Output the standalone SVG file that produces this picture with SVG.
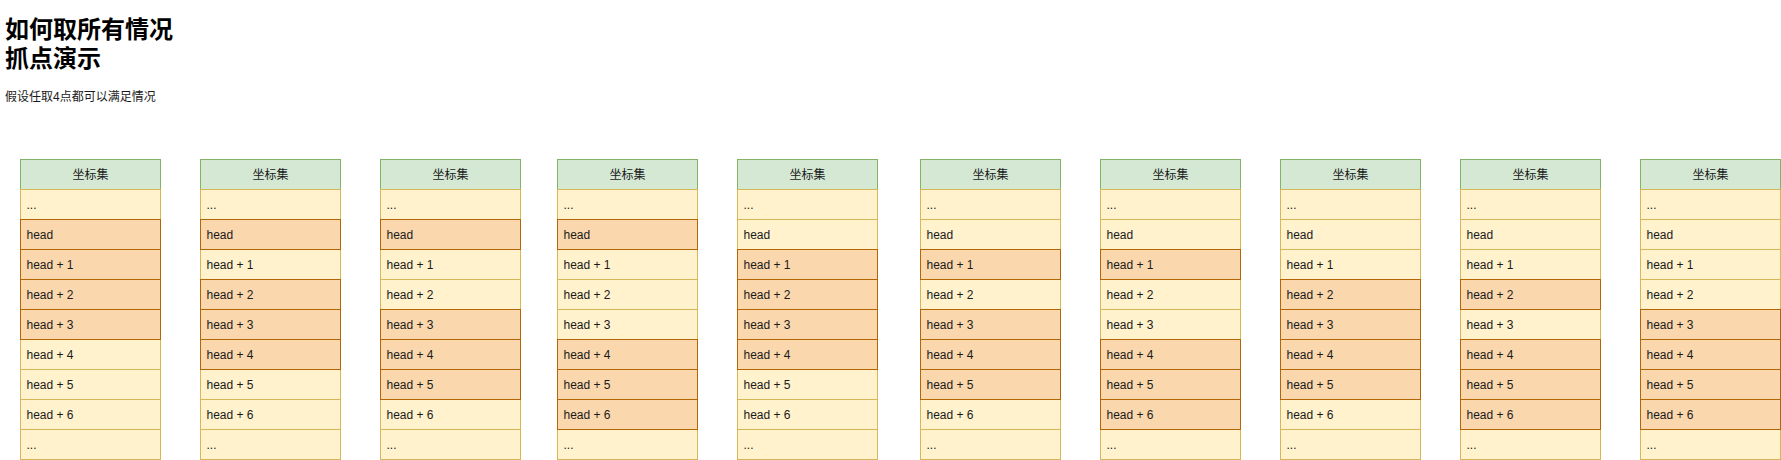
<svg xmlns="http://www.w3.org/2000/svg" width="1781" height="460" viewBox="0 0 1781 460">
<style>
.t{font-family:"Liberation Sans","Noto Sans CJK SC",sans-serif;fill:#1a1a1a}
.title{font-size:24px;font-weight:bold;fill:#000}
.sub{font-size:12px;fill:#1a1a1a}
.hd{fill:#d5e8d4;stroke:#82b366;stroke-width:1}
.r{fill:#fff2cc;stroke:#d6b656;stroke-width:1}
.h{fill:#fad7ac;stroke:#b46504;stroke-width:1}
.lbl{font-size:12px}
.c{text-anchor:middle}
</style>
<defs>
<g id="base">
<rect class="hd" x="0" y="0" width="140" height="30"/>
<rect class="r" x="0" y="30" width="140" height="30"/>
<rect class="r" x="0" y="60" width="140" height="30"/>
<rect class="r" x="0" y="90" width="140" height="30"/>
<rect class="r" x="0" y="120" width="140" height="30"/>
<rect class="r" x="0" y="150" width="140" height="30"/>
<rect class="r" x="0" y="180" width="140" height="30"/>
<rect class="r" x="0" y="210" width="140" height="30"/>
<rect class="r" x="0" y="240" width="140" height="30"/>
<rect class="r" x="0" y="270" width="140" height="30"/>
</g>
<g id="labels" class="t lbl">
<text class="c" x="70" y="19">坐标集</text>
<text x="6" y="49">...</text>
<text x="6" y="79">head</text>
<text x="6" y="109">head + 1</text>
<text x="6" y="139">head + 2</text>
<text x="6" y="169">head + 3</text>
<text x="6" y="199">head + 4</text>
<text x="6" y="229">head + 5</text>
<text x="6" y="259">head + 6</text>
<text x="6" y="289">...</text>
</g>
</defs>
<rect x="0" y="0" width="1781" height="460" fill="#ffffff"/>
<g id="title">
<text class="t title" x="5" y="38">如何取所有情况</text>
<text class="t title" x="5" y="67">抓点演示</text>
</g>
<g id="subtitle">
<text class="t sub" x="5" y="101">假设任取4点都可以满足情况</text>
</g>
<g id="connectors"></g>
<g transform="translate(0.5,0.5)">
<g id="col1" transform="translate(20,159)">
<use href="#base"/>
<rect class="h" x="0" y="60" width="140" height="30"/>
<rect class="h" x="0" y="90" width="140" height="30"/>
<rect class="h" x="0" y="120" width="140" height="30"/>
<rect class="h" x="0" y="150" width="140" height="30"/>
<use href="#labels"/>
</g>
<g id="col2" transform="translate(200,159)">
<use href="#base"/>
<rect class="h" x="0" y="60" width="140" height="30"/>
<rect class="h" x="0" y="120" width="140" height="30"/>
<rect class="h" x="0" y="150" width="140" height="30"/>
<rect class="h" x="0" y="180" width="140" height="30"/>
<use href="#labels"/>
</g>
<g id="col3" transform="translate(380,159)">
<use href="#base"/>
<rect class="h" x="0" y="60" width="140" height="30"/>
<rect class="h" x="0" y="150" width="140" height="30"/>
<rect class="h" x="0" y="180" width="140" height="30"/>
<rect class="h" x="0" y="210" width="140" height="30"/>
<use href="#labels"/>
</g>
<g id="col4" transform="translate(557,159)">
<use href="#base"/>
<rect class="h" x="0" y="60" width="140" height="30"/>
<rect class="h" x="0" y="180" width="140" height="30"/>
<rect class="h" x="0" y="210" width="140" height="30"/>
<rect class="h" x="0" y="240" width="140" height="30"/>
<use href="#labels"/>
</g>
<g id="col5" transform="translate(737,159)">
<use href="#base"/>
<rect class="h" x="0" y="90" width="140" height="30"/>
<rect class="h" x="0" y="120" width="140" height="30"/>
<rect class="h" x="0" y="150" width="140" height="30"/>
<rect class="h" x="0" y="180" width="140" height="30"/>
<use href="#labels"/>
</g>
<g id="col6" transform="translate(920,159)">
<use href="#base"/>
<rect class="h" x="0" y="90" width="140" height="30"/>
<rect class="h" x="0" y="150" width="140" height="30"/>
<rect class="h" x="0" y="180" width="140" height="30"/>
<rect class="h" x="0" y="210" width="140" height="30"/>
<use href="#labels"/>
</g>
<g id="col7" transform="translate(1100,159)">
<use href="#base"/>
<rect class="h" x="0" y="90" width="140" height="30"/>
<rect class="h" x="0" y="180" width="140" height="30"/>
<rect class="h" x="0" y="210" width="140" height="30"/>
<rect class="h" x="0" y="240" width="140" height="30"/>
<use href="#labels"/>
</g>
<g id="col8" transform="translate(1280,159)">
<use href="#base"/>
<rect class="h" x="0" y="120" width="140" height="30"/>
<rect class="h" x="0" y="150" width="140" height="30"/>
<rect class="h" x="0" y="180" width="140" height="30"/>
<rect class="h" x="0" y="210" width="140" height="30"/>
<use href="#labels"/>
</g>
<g id="col9" transform="translate(1460,159)">
<use href="#base"/>
<rect class="h" x="0" y="120" width="140" height="30"/>
<rect class="h" x="0" y="180" width="140" height="30"/>
<rect class="h" x="0" y="210" width="140" height="30"/>
<rect class="h" x="0" y="240" width="140" height="30"/>
<use href="#labels"/>
</g>
<g id="col10" transform="translate(1640,159)">
<use href="#base"/>
<rect class="h" x="0" y="150" width="140" height="30"/>
<rect class="h" x="0" y="180" width="140" height="30"/>
<rect class="h" x="0" y="210" width="140" height="30"/>
<rect class="h" x="0" y="240" width="140" height="30"/>
<use href="#labels"/>
</g>
</g>
</svg>
